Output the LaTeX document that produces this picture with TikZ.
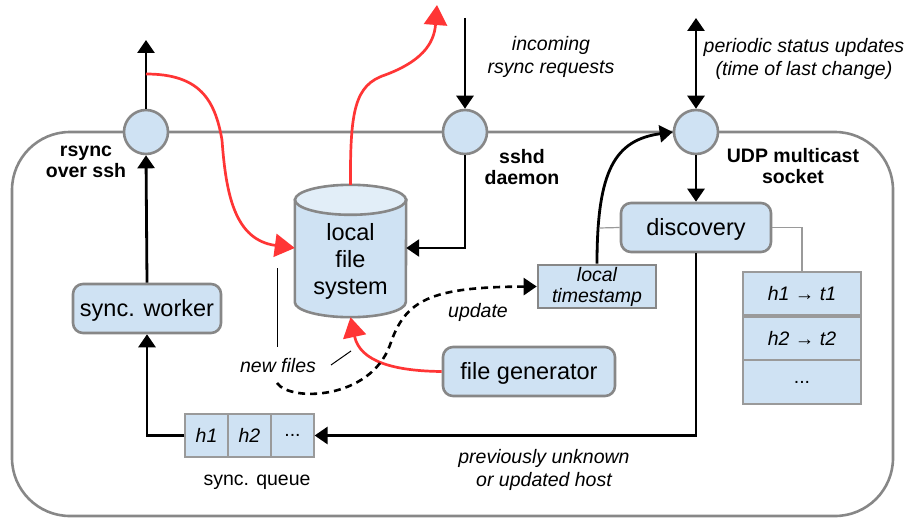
\documentclass[tikz,border=0pt]{standalone}
\usepackage{fontspec}
\setmainfont{Liberation Sans}
\usetikzlibrary{arrows.meta,calc}
\definecolor{boxfill}{HTML}{CFE2F3}
\definecolor{cyltop}{HTML}{E2EEF8}
\definecolor{edge}{HTML}{878787}
\definecolor{flow}{HTML}{FF3535}
\definecolor{thingray}{HTML}{9A9A9A}
\begin{document}
\begin{tikzpicture}[x=1pt,y=-1pt,
  tip/.tip={Triangle[length=13pt,width=17pt]},
  redtip/.tip={Triangle[length=20pt,width=23pt]},
  note/.style={font=\fontsize{19.5}{22.5}\selectfont\itshape, align=center, inner sep=0pt},
  tag/.style={font=\fontsize{19.5}{21.5}\selectfont\bfseries, align=center, inner sep=0pt},
  plain/.style={font=\fontsize{19.5}{22.5}\selectfont, inner sep=0pt},
  port/.style={circle, draw=edge, fill=boxfill, line width=2.6pt, minimum size=44pt, inner sep=0pt},
  proc/.style={rectangle, rounded corners=10pt, draw=edge, fill=boxfill, line width=2.6pt,
    inner sep=0pt, text depth=2pt, font=\fontsize{23.5}{27}\selectfont},
  cell/.style={rectangle, draw=thingray, fill=boxfill, line width=1.2pt, inner sep=0pt,
    font=\fontsize{19.5}{22}\selectfont},
  wire/.style={line width=2.8pt, -tip},
  redwire/.style={draw=flow, line width=2.7pt, -redtip},
  dashwire/.style={line width=2.6pt, dash pattern=on 7pt off 5pt, -tip},
  thinline/.style={draw=thingray, line width=1.2pt},
  pointer/.style={line width=1pt},
]
\useasboundingbox (0,0) rectangle (907,519);

% host boundary
\draw[draw=edge, line width=2.6pt, rounded corners=58pt] (12,132) rectangle (893,516);

% network endpoints on the boundary
\node[port] (rs) at (146,132) {};
\node[port] (sshd) at (465,132) {};
\node[port] (udp) at (696,132) {};

% processes
\node[proc, minimum width=148pt, minimum height=49pt] (worker) at (147,308.5) {sync. worker};
\node[proc, minimum width=150pt, minimum height=49pt] (disc) at (696,227.5) {discovery};
\node[proc, minimum width=172pt, minimum height=49pt] (gen) at (529,371.5) {file generator};
\node[rectangle, draw=edge, fill=boxfill, line width=2.6pt, minimum width=118pt,
  minimum height=43pt, note, font=\fontsize{19.5}{21}\selectfont\itshape] (ts) at (597,286.5) {local\\timestamp};

% local file system (cylinder)
\node[minimum width=111pt, minimum height=132pt, inner sep=0pt] (fs) at (350.5,251) {};
\filldraw[draw=edge, fill=boxfill, line width=2.6pt]
  ([yshift=-15pt]fs.north west) -- ([yshift=15pt]fs.south west)
  arc[start angle=180, end angle=360, x radius=55.5pt, y radius=15pt]
  -- ([yshift=-15pt]fs.north east) -- cycle;
\draw[draw=edge, fill=cyltop, line width=2.6pt] ([yshift=-15pt]fs.north) ellipse [x radius=55.5pt, y radius=15pt];
\node[align=center, inner sep=0pt, font=\fontsize{23.5}{27}\selectfont] (fstext) at (350.5,261.5) {local\\file\\system};

% sync queue
\node[cell, minimum width=43pt, minimum height=43pt, font=\fontsize{19.5}{22}\selectfont\itshape] (q1) at (206.5,435.5) {h1};
\node[cell, minimum width=43pt, minimum height=43pt, font=\fontsize{19.5}{22}\selectfont\itshape] (q2) at (249.5,435.5) {h2};
\node[cell, minimum width=43pt, minimum height=43pt] (q3) at (292.5,435.5) {...};
\node[plain] (lq) at (257,482) {sync. queue};

% host table
\node[cell, minimum width=118pt, minimum height=43pt, font=\fontsize{19.5}{22}\selectfont\itshape] (t1) at (802,293.5) {h1 → t1};
\node[cell, minimum width=118pt, minimum height=43pt, font=\fontsize{19.5}{22}\selectfont\itshape] (t2) at (802,338.5) {h2 → t2};
\node[cell, minimum width=118pt, minimum height=44pt] (t3) at (802,382) {...};

% labels
\node[tag] (lrs) at (86,162) {rsync\\over ssh};
\node[tag] (lsshd) at (522,167) {sshd\\daemon};
\node[tag] (ludp) at (793,166) {UDP multicast\\socket};
\node[note] (lin) at (551,57) {incoming\\rsync requests};
\node[note] (lper) at (804,59) {periodic status updates\\(time of last change)};
\node[note] (lupd) at (478,312) {update};
\node[note] (lnew) at (278,366) {new files};
\node[note] (lprev) at (544,470) {previously unknown\\or updated host};

% free ends
\coordinate (rsout) at (146,40);
\coordinate (rsred) at (146,74);
\coordinate (fsout) at (437,5);
\coordinate (sshin) at (465,18);
\coordinate (udpio) at (696,18);
\coordinate (dl) at (599,228);
\coordinate (dstart) at (277,383);
\coordinate (p1a) at (277,268);
\coordinate (p1b) at (277,347);
\coordinate (p2a) at (331,365);
\coordinate (p2b) at (351,351);

% rsync over ssh
\draw[wire] (rs.north) -- (rsout);
\draw[wire] (worker.north) -- (rs.south);
\draw[redwire] (rsred) .. controls (200,74) and (215,100) .. (222,140)
  .. controls (226,195) and (235,240) .. ([yshift=3pt]fs.west);

% files leaving through sshd
\draw[redwire] (fs.north) .. controls (350,110) and (355,85) .. (385,75)
  .. controls (420,62) and (434,45) .. (fsout);
\draw[wire] (sshin) -- (sshd.north);
\draw[wire] (sshd.south) |- ([yshift=3pt]fs.east);

% multicast discovery
\draw[line width=2.8pt, tip-tip] (udpio) -- (udp.north);
\draw[wire] (udp.south) -- (disc.north);
\draw[wire] (ts.north) .. controls (597,170) and (615,140) .. (udp.west);
\draw[thinline] (disc.west) -- (dl);
\draw[thinline] (disc.east) -| (t1.north);
\draw[wire] (disc.south) |- (q3.east);
\draw[wire] (q1.west) -| (worker.south);

% file generation
\draw[redwire] (gen.west) .. controls (395,371) and (360,362) .. (fs.south);
\draw[dashwire] (dstart) .. controls (290,402) and (370,400) .. (390,345)
  .. controls (405,300) and (430,287) .. (ts.west);
\draw[pointer] (p1a) -- (p1b);
\draw[pointer] (p2a) -- (p2b);
\end{tikzpicture}
\end{document}
